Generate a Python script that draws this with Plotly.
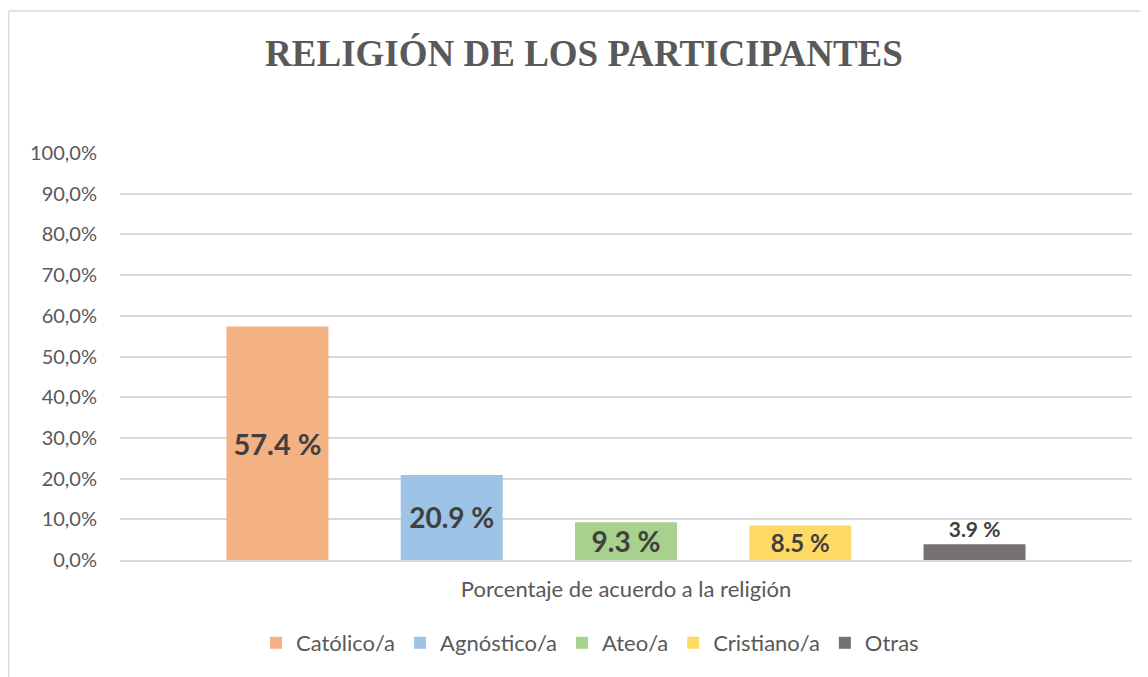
import plotly.graph_objects as go

category = ["Porcentaje de acuerdo a la religión"]
series_names = ["Católico/a", "Agnóstico/a", "Ateo/a", "Cristiano/a", "Otras"]
series_values = [57.4, 20.9, 9.3, 8.5, 3.9]
series_colors = ["#F4B183", "#9DC3E6", "#A9D18E", "#FFD966", "#767171"]
label_sizes = [29, 28, 28, 24, 21]
label_positions = ["inside", "inside", "inside", "inside", "outside"]
y_ticks = [0, 10, 20, 30, 40, 50, 60, 70, 80, 90, 100]
y_ticktext = ["0,0%", "10,0%", "20,0%", "30,0%", "40,0%", "50,0%", "60,0%", "70,0%", "80,0%", "90,0%", "100,0%"]

# page is offset by the 8px default body margin; layout is set in figure coordinates
L, T, R, B = 112, 145, 1124, 552
PW, PH = R - L, B - T

fig = go.Figure()
for name, val, col, fs, pos in zip(series_names, series_values, series_colors, label_sizes, label_positions):
    fig.add_trace(go.Bar(
        x=category, y=[val], name=name,
        marker=dict(color=col, line=dict(width=0)),
        text=[f"{val} %"], textposition=pos,
        insidetextanchor="middle", constraintext="none",
        textfont=dict(family="Lato", size=fs, color="#404040", weight="bold"),
        cliponaxis=False,
        hoverinfo="skip",
    ))

fig.update_layout(
    width=1148, height=677,
    margin=dict(l=L, r=1148 - R, t=T, b=677 - B),
    paper_bgcolor="white", plot_bgcolor="white",
    barmode="group", bargap=0.139, bargroupgap=0.415,
    title=dict(text="<b>RELIGIÓN DE LOS PARTICIPANTES</b>", xref="container", x=576/1148, xanchor="center",
               y=1 - 45/677, yanchor="middle",
               font=dict(family="Liberation Serif", size=37, color="#595959")),
    font=dict(family="Lato", color="#595959"),
    showlegend=True,
    legend=dict(orientation="h", x=(582 - L)/PW, xanchor="center", y=(B - 635)/PH, yanchor="middle",
                font=dict(family="Lato", size=22, color="#595959"),
                itemsizing="constant", traceorder="normal", itemwidth=30),
    xaxis=dict(showgrid=False, showline=True, linecolor="#D9D9D9", linewidth=1.5,
               tickfont=dict(family="Lato", size=22, color="#595959"), ticks="",
               ticklabelstandoff=9, fixedrange=True),
    yaxis=dict(range=[0, 100], tickvals=y_ticks, ticktext=y_ticktext,
               showgrid=True, gridcolor="#D9D9D9", gridwidth=1.5, zeroline=False,
               showline=False, ticks="", ticklabelstandoff=22,
               tickfont=dict(family="Lato", size=20, color="#595959"), fixedrange=True),
    shapes=[
        dict(type="line", xref="paper", yref="paper", x0=(0.5 - L)/PW, x1=(1148 - L)/PW,
             y0=(B - 3)/PH, y1=(B - 3)/PH, line=dict(color="#D9D9D9", width=1.5)),
        dict(type="line", xref="paper", yref="paper", x0=(0.5 - L)/PW, x1=(0.5 - L)/PW,
             y0=(B - 3)/PH, y1=(B - 677)/PH, line=dict(color="#D9D9D9", width=1.5)),
    ],
)

fig.write_html("out.html")
